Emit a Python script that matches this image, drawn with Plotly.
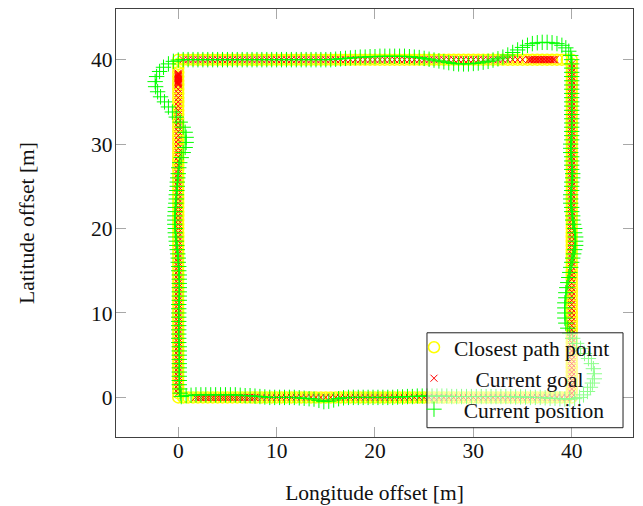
import plotly.graph_objects as go

# ---------------- data (metres) ----------------
# Closest path point (yellow circles), traversed counter-clockwise from (0,0)
cp_bottom_x = [0, 0.5, 1, 1.5, 2, 2.5, 3, 3.5, 4, 4.5, 5, 5.5, 6, 6.5, 7, 7.5, 8, 8.5, 9, 9.5,
               10, 10.5, 11, 11.5, 12, 12.5, 13, 13.5, 14, 14.5, 15, 15.5, 16, 16.5, 17, 17.5, 18, 18.5, 19, 19.5,
               20, 20.5, 21, 21.5, 22, 22.5, 23, 23.5, 24, 24.5, 25, 25.5, 26, 26.5, 27, 27.5, 28, 28.5, 29, 29.5,
               30, 30.5, 31, 31.5, 32, 32.5, 33, 33.5, 34, 34.5, 35, 35.5, 36, 36.5, 37, 37.5, 38, 38.5, 39, 39.5, 40]
cp_bottom_y = [0, 0, 0, 0, 0, 0, 0, 0, 0, 0, 0, 0, 0, 0, 0, 0, 0, 0, 0, 0,
               0, 0, 0, 0, 0, 0, 0, 0, 0, 0, 0, 0, 0, 0, 0, 0, 0, 0, 0, 0,
               0, 0, 0, 0, 0, 0, 0, 0, 0, 0, 0, 0, 0, 0, 0, 0, 0, 0, 0, 0,
               0, 0, 0, 0, 0, 0, 0, 0, 0, 0, 0, 0, 0, 0, 0, 0, 0, 0, 0, 0, 0]
cp_right_x = [40, 40, 40, 40, 40, 40, 40, 40, 40, 40, 40, 40, 40, 40, 40, 40, 40, 40, 40, 40,
              40, 40, 40, 40, 40, 40, 40, 40, 40, 40, 40, 40, 40, 40, 40, 40, 40, 40, 40, 40,
              40, 40, 40, 40, 40, 40, 40, 40, 40, 40, 40, 40, 40, 40, 40, 40, 40, 40, 40, 40,
              40, 40, 40, 40, 40, 40, 40, 40, 40, 40, 40, 40, 40, 40, 40, 40, 40, 40, 40, 40]
cp_right_y = [0.5, 1, 1.5, 2, 2.5, 3, 3.5, 4, 4.5, 5, 5.5, 6, 6.5, 7, 7.5, 8, 8.5, 9, 9.5, 10,
              10.5, 11, 11.5, 12, 12.5, 13, 13.5, 14, 14.5, 15, 15.5, 16, 16.5, 17, 17.5, 18, 18.5, 19, 19.5, 20,
              20.5, 21, 21.5, 22, 22.5, 23, 23.5, 24, 24.5, 25, 25.5, 26, 26.5, 27, 27.5, 28, 28.5, 29, 29.5, 30,
              30.5, 31, 31.5, 32, 32.5, 33, 33.5, 34, 34.5, 35, 35.5, 36, 36.5, 37, 37.5, 38, 38.5, 39, 39.5, 40]
cp_top_x = [39.5, 39, 38.5, 38, 37.5, 37, 36.5, 36, 35.5, 35, 34.5, 34, 33.5, 33, 32.5, 32, 31.5, 31, 30.5, 30,
            29.5, 29, 28.5, 28, 27.5, 27, 26.5, 26, 25.5, 25, 24.5, 24, 23.5, 23, 22.5, 22, 21.5, 21, 20.5, 20,
            19.5, 19, 18.5, 18, 17.5, 17, 16.5, 16, 15.5, 15, 14.5, 14, 13.5, 13, 12.5, 12, 11.5, 11, 10.5, 10,
            9.5, 9, 8.5, 8, 7.5, 7, 6.5, 6, 5.5, 5, 4.5, 4, 3.5, 3, 2.5, 2, 1.5, 1, 0.5, 0]
cp_top_y = [40, 40, 40, 40, 40, 40, 40, 40, 40, 40, 40, 40, 40, 40, 40, 40, 40, 40, 40, 40,
            40, 40, 40, 40, 40, 40, 40, 40, 40, 40, 40, 40, 40, 40, 40, 40, 40, 40, 40, 40,
            40, 40, 40, 40, 40, 40, 40, 40, 40, 40, 40, 40, 40, 40, 40, 40, 40, 40, 40, 40,
            40, 40, 40, 40, 40, 40, 40, 40, 40, 40, 40, 40, 40, 40, 40, 40, 40, 40, 40, 40]
cp_left_x = [0, 0, 0, 0, 0, 0, 0, 0, 0, 0, 0, 0, 0, 0, 0, 0, 0, 0, 0, 0,
             0, 0, 0, 0, 0, 0, 0, 0, 0, 0, 0, 0, 0, 0, 0, 0, 0, 0, 0, 0,
             0, 0, 0, 0, 0, 0, 0, 0, 0, 0, 0, 0, 0, 0, 0, 0, 0, 0, 0, 0,
             0, 0, 0, 0, 0, 0, 0, 0, 0, 0, 0, 0, 0, 0, 0, 0, 0, 0, 0]
cp_left_y = [39.5, 39, 38.5, 38, 37.5, 37, 36.5, 36, 35.5, 35, 34.5, 34, 33.5, 33, 32.5, 32, 31.5, 31, 30.5, 30,
             29.5, 29, 28.5, 28, 27.5, 27, 26.5, 26, 25.5, 25, 24.5, 24, 23.5, 23, 22.5, 22, 21.5, 21, 20.5, 20,
             19.5, 19, 18.5, 18, 17.5, 17, 16.5, 16, 15.5, 15, 14.5, 14, 13.5, 13, 12.5, 12, 11.5, 11, 10.5, 10,
             9.5, 9, 8.5, 8, 7.5, 7, 6.5, 6, 5.5, 5, 4.5, 4, 3.5, 3, 2.5, 2, 1.5, 1, 0.5]

# Current goal (red x)
cg_bottom_x = [1.75, 2, 2.25, 2.5, 2.75, 3, 3.25, 3.5, 3.75, 4, 4.25, 4.5, 4.75, 5, 5.25, 5.5, 5.75, 6, 6.25, 6.5,
               6.75, 7, 7.25, 7.5, 7.75,
               8, 8.5, 9, 9.5, 10, 10.5, 11, 11.5, 12, 12.5, 13, 13.5, 14, 14.5, 15, 15.5, 16, 16.5, 17, 17.5,
               18, 18.5, 19, 19.5, 20, 20.5, 21, 21.5, 22, 22.5, 23, 23.5, 24, 24.5, 25, 25.5, 26, 26.5, 27, 27.5,
               28, 28.5, 29, 29.5, 30, 30.5, 31, 31.5, 32, 32.5, 33, 33.5, 34, 34.5, 35, 35.5, 36, 36.5, 37, 37.5,
               38, 38.5, 39, 39.5, 40]
cg_bottom_y = [0, 0, 0, 0, 0, 0, 0, 0, 0, 0, 0, 0, 0, 0, 0, 0, 0, 0, 0, 0,
               0, 0, 0, 0, 0,
               0, 0, 0, 0, 0, 0, 0, 0, 0, 0, 0, 0, 0, 0, 0, 0, 0, 0, 0, 0,
               0, 0, 0, 0, 0, 0, 0, 0, 0, 0, 0, 0, 0, 0, 0, 0, 0, 0, 0, 0,
               0, 0, 0, 0, 0, 0, 0, 0, 0, 0, 0, 0, 0, 0, 0, 0, 0, 0, 0, 0,
               0, 0, 0, 0, 0]
cg_right_x = [40, 40, 40, 40, 40, 40, 40, 40, 40, 40, 40, 40, 40, 40, 40, 40, 40, 40, 40, 40,
              40, 40, 40, 40, 40, 40, 40, 40, 40, 40, 40, 40, 40, 40, 40, 40, 40, 40, 40, 40,
              40, 40, 40, 40, 40, 40, 40, 40, 40, 40, 40, 40, 40, 40, 40, 40, 40, 40, 40, 40,
              40, 40, 40, 40, 40, 40, 40, 40, 40, 40, 40, 40, 40, 40, 40, 40, 40, 40, 40]
cg_right_y = [0.5, 1, 1.5, 2, 2.5, 3, 3.5, 4, 4.5, 5, 5.5, 6, 6.5, 7, 7.5, 8, 8.5, 9, 9.5, 10,
              10.5, 11, 11.5, 12, 12.5, 13, 13.5, 14, 14.5, 15, 15.5, 16, 16.5, 17, 17.5, 18, 18.5, 19, 19.5, 20,
              20.5, 21, 21.5, 22, 22.5, 23, 23.5, 24, 24.5, 25, 25.5, 26, 26.5, 27, 27.5, 28, 28.5, 29, 29.5, 30,
              30.5, 31, 31.5, 32, 32.5, 33, 33.5, 34, 34.5, 35, 35.5, 36, 36.5, 37, 37.5, 38, 38.5, 39, 39.5]
cg_top_x = [38.3, 38.15, 38, 37.85, 37.7, 37.55, 37.4, 37.25, 37.1, 36.95, 36.8, 36.65, 36.5, 36.35, 36.2,
            36.05, 35.9, 35.75, 35.6,
            35, 34.5, 34, 33.5, 33, 32.5, 32, 31.5, 31, 30.5, 30, 29.5, 29, 28.5, 28, 27.5, 27, 26.5, 26, 25.5,
            25, 24.5, 24, 23.5, 23, 22.5, 22, 21.5, 21, 20.5, 20, 19.5, 19, 18.5, 18, 17.5, 17, 16.5, 16, 15.5,
            15, 14.5, 14, 13.5, 13, 12.5, 12, 11.5, 11, 10.5, 10, 9.5, 9, 8.5, 8, 7.5, 7, 6.5, 6, 5.5,
            5, 4.5, 4, 3.5, 3, 2.5, 2, 1.5, 1, 0.5]
cg_top_y = [40, 40, 40, 40, 40, 40, 40, 40, 40, 40, 40, 40, 40, 40, 40,
            40, 40, 40, 40,
            40, 40, 40, 40, 40, 40, 40, 40, 40, 40, 40, 40, 40, 40, 40, 40, 40, 40, 40, 40,
            40, 40, 40, 40, 40, 40, 40, 40, 40, 40, 40, 40, 40, 40, 40, 40, 40, 40, 40, 40,
            40, 40, 40, 40, 40, 40, 40, 40, 40, 40, 40, 40, 40, 40, 40, 40, 40, 40, 40, 40,
            40, 40, 40, 40, 40, 40, 40, 40, 40, 40]
cg_left_x = [0, 0, 0, 0, 0, 0, 0, 0, 0, 0, 0, 0, 0, 0, 0,
             0, 0, 0, 0, 0, 0, 0, 0, 0, 0, 0, 0, 0, 0, 0, 0, 0, 0, 0, 0, 0,
             0, 0, 0, 0, 0, 0, 0, 0, 0, 0, 0, 0, 0, 0, 0, 0, 0, 0, 0, 0,
             0, 0, 0, 0, 0, 0, 0, 0, 0, 0, 0, 0, 0, 0, 0, 0, 0, 0, 0, 0,
             0, 0, 0, 0, 0, 0, 0, 0, 0, 0, 0, 0, 0, 0, 0]
cg_left_y = [38.4, 38.3, 38.2, 38.1, 38, 37.9, 37.8, 37.7, 37.6, 37.5, 37.4, 37.3, 37.2, 37.1, 37,
             36.5, 36, 35.5, 35, 34.5, 34, 33.5, 33, 32.5, 32, 31.5, 31, 30.5, 30, 29.5, 29, 28.5, 28, 27.5, 27, 26.5,
             26, 25.5, 25, 24.5, 24, 23.5, 23, 22.5, 22, 21.5, 21, 20.5, 20, 19.5, 19, 18.5, 18, 17.5, 17, 16.5,
             16, 15.5, 15, 14.5, 14, 13.5, 13, 12.5, 12, 11.5, 11, 10.5, 10, 9.5, 9, 8.5, 8, 7.5, 7, 6.5,
             6, 5.5, 5, 4.5, 4, 3.5, 3, 2.5, 2, 1.5, 1, 0.5]

# Current position (green +), the driven trajectory
pos_bottom_x = [0.3, 0.8, 1.3, 1.8, 2.3, 2.8, 3.3, 3.8, 4.3, 4.8, 5.3, 5.8, 6.3, 6.8, 7.3, 7.8,
                8.3, 8.8, 9.3, 9.8, 10.3, 10.8, 11.3, 11.8, 12.3, 12.8, 13.3, 13.8,
                14.3, 14.8, 15.3, 15.8,
                16.3, 16.8, 17.3, 17.8, 18.3, 18.8, 19.3, 19.8, 20.3, 20.8, 21.3, 21.8, 22.3, 22.8, 23.3, 23.8,
                24.3, 24.8, 25.3, 25.8,
                26.3, 26.8, 27.3, 27.8, 28.3, 28.8, 29.3, 29.8, 30.3, 30.8, 31.3, 31.8, 32.3, 32.8, 33.3, 33.8,
                34.3, 34.8, 35.3, 35.8, 36.3, 36.8, 37.3, 37.8]
pos_bottom_y = [0.1, 0.2, 0.25, 0.3, 0.3, 0.3, 0.3, 0.3, 0.3, 0.3, 0.3, 0.3, 0.25, 0.2, 0.2, 0.15,
                0.1, 0.05, 0, 0, 0, 0, 0, 0, -0.05, -0.1, -0.15, -0.2,
                -0.35, -0.5, -0.45, -0.3,
                -0.15, -0.05, 0, 0, 0, 0, 0, 0, 0, 0, 0, 0, 0.05, 0.05, 0.1, 0.1,
                0.15, 0.15, 0.15, 0.15,
                0.15, 0.15, 0.15, 0.1, 0.1, 0.1, 0.1, 0.1, 0.1, 0.1, 0.1, 0.1, 0.1, 0.1, 0.1, 0.1,
                0.05, 0.05, 0.05, 0, 0, 0, -0.05, -0.1]
pos_br_x = [38.3, 38.8, 39.3, 39.8, 40.3, 40.8, 41.2, 41.6, 41.9, 42.1, 42.3, 42.3, 42.2, 42.0, 41.7, 41.3,
            40.9, 40.5, 40.1, 39.8, 39.6, 39.4, 39.3, 39.3, 39.3, 39.3, 39.4, 39.4, 39.5, 39.6, 39.7, 39.8, 39.9]
pos_br_y = [-0.1, -0.15, -0.2, -0.2, -0.15, 0, 0.3, 0.7, 1.2, 1.7, 2.2, 2.8, 3.4, 4.0, 4.6, 5.2,
            5.8, 6.4, 7.0, 7.6, 8.2, 8.8, 9.4, 10.0, 10.6, 11.2, 11.8, 12.4, 13.0, 13.6, 14.2, 14.8, 15.4]
pos_right_x = [40.0, 40.1, 40.2, 40.3, 40.4, 40.4, 40.4, 40.3, 40.3, 40.2, 40.1, 40.1, 40.0, 40.0, 39.9, 39.9,
               39.9, 40.0, 40.0, 40.0, 40.1, 40.1, 40.0, 40.0, 40.0, 40.0, 39.9, 39.9, 39.9, 40.0, 40.0, 40.0,
               40.0, 40.0, 40.0, 40.0, 40.0, 40.0, 40.0, 40.0, 40.0, 40.0, 40.0, 40.0, 40.0, 40.0, 40.0]
pos_right_y = [16, 16.5, 17, 17.5, 18, 18.5, 19, 19.5, 20, 20.5, 21, 21.5, 22, 22.5, 23, 23.5,
               24, 24.5, 25, 25.5, 26, 26.5, 27, 27.5, 28, 28.5, 29, 29.5, 30, 30.5, 31, 31.5,
               32, 32.5, 33, 33.5, 34, 34.5, 35, 35.5, 36, 36.5, 37, 37.5, 38, 38.5, 39]
pos_tr_x = [40.0, 40.0, 39.9, 39.7, 39.4, 39.0, 38.5, 38.0, 37.5, 37.0, 36.5, 36.0, 35.5, 35.0, 34.5, 34.0,
            33.5, 33.0, 32.5]
pos_tr_y = [39.5, 40.0, 40.5, 41.0, 41.4, 41.7, 41.9, 42.0, 42.05, 42.05, 42.0, 41.9, 41.7, 41.45, 41.15, 40.85,
            40.55, 40.3, 40.1]
pos_top_x = [32.0, 31.5, 31.0, 30.5, 30.0, 29.5, 29.0, 28.5, 28.0, 27.5, 27.0, 26.5, 26.0, 25.5, 25.0, 24.5,
             24.0, 23.5, 23.0, 22.5, 22.0, 21.5, 21.0, 20.5, 20.0, 19.5, 19.0, 18.5, 18.0, 17.5, 17.0, 16.5,
             16.0, 15.5, 15.0, 14.5, 14.0, 13.5, 13.0, 12.5, 12.0, 11.5, 11.0, 10.5, 10.0, 9.5, 9.0, 8.5,
             8.0, 7.5, 7.0, 6.5, 6.0, 5.5, 5.0, 4.5, 4.0, 3.5, 3.0, 2.5, 2.0, 1.5, 1.0, 0.5]
pos_top_y = [39.95, 39.8, 39.7, 39.6, 39.55, 39.5, 39.5, 39.5, 39.55, 39.65, 39.75, 39.85, 39.95, 40.05, 40.15, 40.25,
             40.3, 40.35, 40.4, 40.4, 40.4, 40.4, 40.4, 40.4, 40.35, 40.35, 40.3, 40.3, 40.25, 40.2, 40.15, 40.1,
             40.05, 40.0, 40.0, 40.0, 40.0, 40.0, 40.0, 40.0, 40.0, 40.0, 40.0, 40.0, 40.0, 40.0, 40.0, 40.0,
             40.0, 40.0, 40.0, 40.0, 40.0, 40.0, 40.0, 40.0, 40.0, 40.0, 40.0, 40.0, 40.0, 40.0, 40.0, 40.0]
pos_tl_x = [0.0, -0.5, -1.0, -1.5, -1.9, -2.2, -2.35, -2.3, -2.1, -1.8, -1.4, -1.0, -0.6, -0.2, 0.2, 0.5,
            0.7, 0.8, 0.8, 0.7, 0.5, 0.3, 0.15, 0.05]
pos_tl_y = [39.95, 39.8, 39.5, 39.1, 38.6, 38.0, 37.4, 36.8, 36.2, 35.6, 35.0, 34.4, 33.8, 33.2, 32.6, 32.0,
            31.4, 30.8, 30.2, 29.6, 29.0, 28.4, 27.8, 27.2]
pos_left_x = [0, -0.05, -0.1, -0.1, -0.15, -0.2, -0.2, -0.25, -0.3,
              -0.3, -0.35, -0.35, -0.35, -0.3, -0.3, -0.25, -0.2, -0.15,
              -0.1, -0.05, 0, 0, 0.05, 0.05, 0.1, 0.1, 0.1,
              0.1, 0.1, 0.1, 0.1, 0.05, 0.05, 0.05, 0.05, 0.05,
              0.05, 0.05, 0.05, 0.05, 0.05, 0.1, 0.1, 0.1, 0.1,
              0.1, 0.1, 0.1, 0.1, 0.1, 0.1, 0.15, 0.2]
pos_left_y = [26.5, 26, 25.5, 25, 24.5, 24, 23.5, 23, 22.5,
              22, 21.5, 21, 20.5, 20, 19.5, 19, 18.5, 18,
              17.5, 17, 16.5, 16, 15.5, 15, 14.5, 14, 13.5,
              13, 12.5, 12, 11.5, 11, 10.5, 10, 9.5, 9,
              8.5, 8, 7.5, 7, 6.5, 6, 5.5, 5, 4.5,
              4, 3.5, 3, 2.5, 2, 1.5, 1, 0.5]

x_ticks = [0, 10, 20, 30, 40]
y_ticks = [0, 10, 20, 30, 40]

series_names = ["Closest path point",
                "\u00a0\u00a0\u00a0\u00a0Current goal",
                "\u00a0\u2009Current position"]

closest_x = cp_bottom_x + cp_right_x + cp_top_x + cp_left_x
closest_y = cp_bottom_y + cp_right_y + cp_top_y + cp_left_y
goal_x = cg_bottom_x + cg_right_x + cg_top_x + cg_left_x
goal_y = cg_bottom_y + cg_right_y + cg_top_y + cg_left_y
pos_x = pos_bottom_x + pos_br_x + pos_right_x + pos_tr_x + pos_top_x + pos_tl_x + pos_left_x
pos_y = pos_bottom_y + pos_br_y + pos_right_y + pos_tr_y + pos_top_y + pos_tl_y + pos_left_y

FONT = "Liberation Serif"

fig = go.Figure()
fig.add_trace(go.Scatter(
    x=closest_x, y=closest_y, mode="markers", name=series_names[0], legendgroup="a",
    marker=dict(symbol="circle-open", size=11, color="#FFFF00", line=dict(width=1.5, color="#FFFF00")),
))
fig.add_trace(go.Scatter(
    x=goal_x, y=goal_y, mode="markers", name=series_names[1], legendgroup="b",
    marker=dict(symbol="x-thin-open", size=7, color="#FF0000", line=dict(width=1, color="#FF0000")),
))
fig.add_trace(go.Scatter(
    x=pos_x, y=pos_y, mode="markers", name=series_names[2], legendgroup="c",
    marker=dict(symbol="cross-thin-open", size=11, color="#00FF00", line=dict(width=1, color="#00FF00")),
))

axis_common = dict(
    showgrid=False, zeroline=False, showline=True, linecolor="#404040", linewidth=1.3,
    mirror="allticks", ticks="inside", ticklen=10, tickwidth=1, tickcolor="#a8a8a8",
    tickfont=dict(family=FONT, size=21.5, color="#111111"),
    automargin=False,
)

# legend frame (semi-transparent white box above the data), in paper coordinates
legend_box = dict(x0=0.6015, x1=0.9807, y0=0.0217, y1=0.2435)

fig.update_layout(
    width=643, height=506,
    margin=dict(l=116, r=10, t=9, b=69),
    paper_bgcolor="white", plot_bgcolor="white",
    font=dict(family=FONT, size=21.5, color="#111111"),
    xaxis=dict(range=[-6.33, 46.23], tickvals=x_ticks, ticktext=[str(v) for v in x_ticks],
               ticklabelstandoff=-6,
               title=dict(text="Longitude offset [m]", font=dict(family=FONT, size=21.5), standoff=22),
               **axis_common),
    yaxis=dict(range=[-4.69, 46.0], tickvals=y_ticks, ticktext=[str(v) for v in y_ticks],
               ticklabelstandoff=-2,
               title=dict(text="Latitude offset [m]", font=dict(family=FONT, size=21.5), standoff=50),
               **axis_common),
    shapes=[dict(type="rect", xref="paper", yref="paper", layer="above",
                 fillcolor="rgba(255,255,255,0.55)", line=dict(color="#202020", width=1),
                 **legend_box)],
    legend=dict(x=0.5764, y=0.2575, xanchor="left", yanchor="top",
                bgcolor="rgba(0,0,0,0)", borderwidth=0,
                font=dict(family=FONT, size=21.5, color="#111111"),
                tracegroupgap=0, itemwidth=30),
    showlegend=True,
)

fig.write_html("out.html")
